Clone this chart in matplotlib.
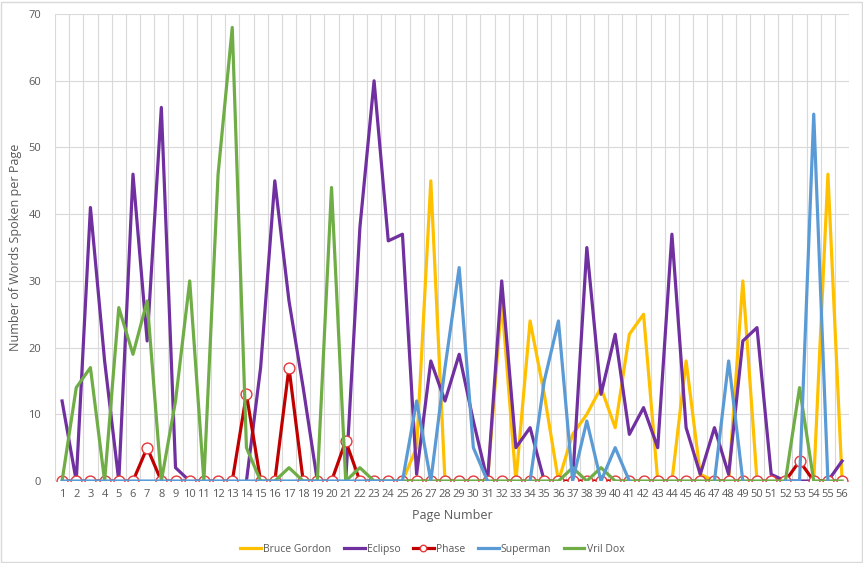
import numpy as np
import matplotlib
matplotlib.use('Agg')
import matplotlib.pyplot as plt
from matplotlib.patches import Rectangle

plt.rcParams['font.family'] = ['Open Sans', 'DejaVu Sans']

nan = np.nan
pages = list(range(1, 57))

# words per page (nan = no entry)
bruce_gordon = [nan] * 24 + [0, 5, 45, 0, nan, nan, 0, 27, 0, 24, 13, 0, 7, 10, 14, 8,
                             22, 25, 0, 0, 18, 1, 0, 0, 30, 0, nan, nan, nan, 0, 46, 0]
eclipso = [12, 0, 41, 18, 0, 46, 21, 56, 2, 0, nan, nan, nan, 0, 17, 45, 27, 14, 0, nan,
           0, 38, 60, 36, 37, 1, 18, 12, 19, 9, 0, 30, 5, 8, 0, nan, 0, 35, 13, 22,
           7, 11, 5, 37, 8, 1, 8, 1, 21, 23, 1, 0, 0, 0, 0, 3]
phase = [0] * 56
phase[6] = 5
phase[13] = 13
phase[16] = 17
phase[20] = 6
phase[52] = 3
superman = [0] * 25 + [12, 0, 17, 32, 5, 0, nan, nan, 0, 15, 24, 0, 9, 0, 5, 0,
                       nan, nan, nan, nan, nan, 0, 18, 0, nan, nan, 0, 0, 55, 0, nan]
vril_dox = [0, 14, 17, 0, 26, 19, 27, 0, 12, 30, 0, 46, 68, 5, 0, 0, 2, 0, 0, 44,
            0, 2, 0] + [0] * 13 + [2, 0, 2, 0] + [0] * 12 + [14, 0, 0, 0]

fig = plt.figure(figsize=(8.63, 5.63), dpi=100)
ax = fig.add_axes([0.0637, 0.1456, 0.9203, 0.8294])

lw = 2.3
ax.plot(pages, bruce_gordon, color='#FFC000', linewidth=lw, label='Bruce Gordon', zorder=2)
ax.plot(pages, eclipso, color='#7030A0', linewidth=lw, label='Eclipso', zorder=3)
ax.plot(pages, phase, color='#C00000', linewidth=lw, marker='o', markersize=7.8,
        markerfacecolor='white', markeredgecolor='#E5383B', markeredgewidth=1.0,
        label='Phase', zorder=4)
ax.plot(pages, superman, color='#5B9BD5', linewidth=lw, label='Superman', zorder=6)
ax.plot(pages, vril_dox, color='#70AD47', linewidth=lw, label='Vril Dox', zorder=5)

ax.set_xlim(0.5, 56.5)
ax.set_ylim(0, 70)
ax.set_xticks(pages)
ax.set_xticks(np.arange(0.5, 57, 1), minor=True)
ax.set_yticks(range(0, 71, 10))
ax.grid(True, which='minor', axis='x', color='#D9D9D9', linewidth=0.8)
ax.grid(True, which='major', axis='y', color='#D9D9D9', linewidth=0.8)
ax.set_axisbelow(True)
for s in ax.spines.values():
    s.set_visible(False)
ax.tick_params(which='both', length=0, colors='#595959', labelsize=8)
ax.tick_params(axis='x', pad=6)
ax.tick_params(axis='y', pad=10)

ax.set_xlabel('Page Number', fontsize=9, color='#595959', labelpad=6)
ax.set_ylabel('Number of Words Spoken per Page', fontsize=9, color='#595959')
ax.yaxis.set_label_coords(-0.041, 0.5)

ax.legend(loc='upper center', bbox_to_anchor=(0.475, -0.115), ncol=5, frameon=False,
          fontsize=7.5, labelcolor='#595959', handlelength=2.0, handletextpad=0.2,
          columnspacing=1.2, markerscale=0.6)

fig.patches.append(Rectangle((0.001, 0.002), 0.998, 0.995, transform=fig.transFigure,
                             fill=False, edgecolor='#D9D9D9', linewidth=1))

fig.savefig('out.png', dpi=100)
